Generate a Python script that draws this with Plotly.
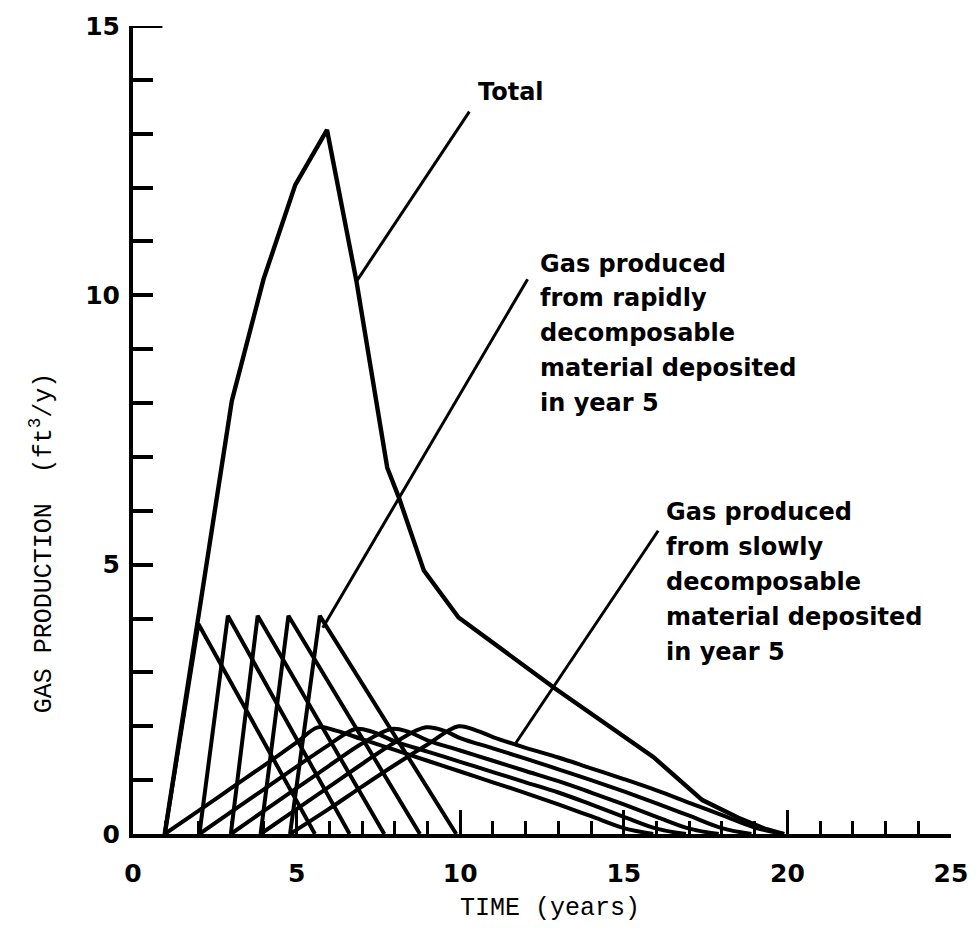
import plotly.graph_objects as go

# ---------------- data ----------------
total_x = [0.97, 2.0, 3.02, 3.99, 4.96, 5.93, 6.83, 7.77, 8.13, 8.89, 9.95, 12.9, 15.9, 17.4, 18.5, 19.3, 19.9]
total_y = [0.0, 4.0, 8.04, 10.3, 12.05, 13.07, 10.26, 6.8, 6.24, 4.89, 4.02, 2.7, 1.43, 0.63, 0.3, 0.1, 0.0]

rapid1_x = [0.97, 2.0, 5.56]
rapid1_y = [0.0, 3.9, 0.0]
rapid2_x = [2.03, 2.9, 6.62]
rapid2_y = [0.0, 4.05, 0.0]
rapid3_x = [2.99, 3.81, 7.68]
rapid3_y = [0.0, 4.05, 0.0]
rapid4_x = [3.9, 4.75, 8.77]
rapid4_y = [0.0, 4.05, 0.0]
rapid5_x = [4.8, 5.71, 9.88]
rapid5_y = [0.0, 4.05, 0.0]

slow1_x = [0.97, 2, 3, 4, 5, 5.65, 6.2, 7, 8, 9, 10, 11, 12, 13, 14, 15, 15.9]
slow1_y = [0.0, 0.43, 0.85, 1.27, 1.7, 1.98, 1.92, 1.76, 1.56, 1.36, 1.16, 0.96, 0.76, 0.55, 0.33, 0.11, 0.0]
slow2_x = [2.03, 3, 4, 5, 6, 6.8, 7.3, 8, 9, 10, 11, 12, 13, 14, 15, 16, 16.9]
slow2_y = [0.0, 0.41, 0.83, 1.25, 1.66, 1.95, 1.9, 1.72, 1.53, 1.34, 1.15, 0.96, 0.77, 0.55, 0.32, 0.1, 0.0]
slow3_x = [2.99, 4, 5, 6, 7, 7.9, 8.4, 9, 10, 11, 12, 13, 14, 15, 16, 17, 17.9]
slow3_y = [0.0, 0.43, 0.85, 1.27, 1.68, 1.95, 1.9, 1.74, 1.55, 1.36, 1.17, 0.98, 0.77, 0.55, 0.32, 0.1, 0.0]
slow4_x = [3.9, 5, 6, 7, 8, 8.95, 9.5, 10, 11, 12, 13, 14, 15, 16, 17, 18, 18.9]
slow4_y = [0.0, 0.46, 0.88, 1.3, 1.7, 1.98, 1.92, 1.78, 1.59, 1.4, 1.2, 1.0, 0.79, 0.57, 0.34, 0.11, 0.0]
slow5_x = [4.8, 6, 7, 8, 9, 9.95, 10.5, 11, 12, 13, 14, 15, 16, 17, 18, 19, 19.9]
slow5_y = [0.0, 0.47, 0.88, 1.28, 1.66, 2.0, 1.92, 1.8, 1.6, 1.42, 1.22, 1.02, 0.81, 0.58, 0.35, 0.12, 0.0]

# leader lines (data coordinates)
lead_total_x = [6.83, 10.28]
lead_total_y = [10.26, 13.41]
lead_rapid_x = [5.80, 12.06]
lead_rapid_y = [3.83, 10.30]
lead_slow_x = [11.70, 16.05]
lead_slow_y = [1.69, 5.63]

label_total = "Total"
label_rapid = ["Gas produced", "from rapidly", "decomposable", "material deposited", "in year 5"]
label_slow = ["Gas produced", "from slowly", "decomposable", "material deposited", "in year 5"]

x_title = "TIME (years)"
y_title = "GAS PRODUCTION  (ft<sup>3</sup>/y)"
x_tickvals = [0, 5, 10, 15, 20, 25]
y_tickvals = [0, 5, 10, 15]

# ---------------- figure ----------------
fig = go.Figure()
LW = 4.0
BLACK = "black"

def add_line(x, y, width=LW, shape="linear"):
    fig.add_trace(go.Scatter(x=x, y=y, mode="lines",
                             line=dict(color=BLACK, width=width, shape=shape),
                             hoverinfo="skip", showlegend=False))

for xs, ys in [(slow1_x, slow1_y), (slow2_x, slow2_y), (slow3_x, slow3_y),
               (slow4_x, slow4_y), (slow5_x, slow5_y)]:
    add_line(xs, ys, shape="spline")
for xs, ys in [(rapid1_x, rapid1_y), (rapid2_x, rapid2_y), (rapid3_x, rapid3_y),
               (rapid4_x, rapid4_y), (rapid5_x, rapid5_y)]:
    add_line(xs, ys)
add_line(total_x, total_y, width=4.4)

for xs, ys in [(lead_total_x, lead_total_y), (lead_rapid_x, lead_rapid_y), (lead_slow_x, lead_slow_y)]:
    add_line(xs, ys, width=3)

TXT = dict(family="DejaVu Sans", size=24, color=BLACK, weight="bold")
annotations = [dict(x=10.49, y=13.78, xref="x", yref="y", text=label_total, showarrow=False,
                    xanchor="left", yanchor="middle", font=TXT)]
step = 35 / 54.0
for i, t in enumerate(label_rapid):
    annotations.append(dict(x=12.39, y=10.59 - i * step, xref="x", yref="y", text=t,
                            showarrow=False, xanchor="left", yanchor="middle", font=TXT))
for i, t in enumerate(label_slow):
    annotations.append(dict(x=16.23, y=5.97 - i * step, xref="x", yref="y", text=t,
                            showarrow=False, xanchor="left", yanchor="middle", font=TXT))

TITLEF = dict(family="Liberation Mono", size=25, color=BLACK)
annotations.append(dict(x=0.51, y=-0.092, xref="paper", yref="paper", text=x_title,
                        showarrow=False, xanchor="center", yanchor="middle", font=TITLEF))
annotations.append(dict(x=-0.111, y=0.36, xref="paper", yref="paper", text=y_title,
                        showarrow=False, xanchor="center", yanchor="middle", textangle=-90,
                        font=TITLEF))

TICKF = dict(family="DejaVu Sans", size=25, color=BLACK, weight="bold")
fig.update_layout(
    width=980, height=933,
    margin=dict(l=133, r=20, t=24, b=99),
    paper_bgcolor="white", plot_bgcolor="white",
    showlegend=False,
    annotations=annotations,
    shapes=[dict(type="line", xref="x", yref="y", x0=0, x1=0.9, y0=15, y1=15,
                 line=dict(color=BLACK, width=4))],
    xaxis=dict(range=[0, 25], showgrid=False, zeroline=False,
               showline=True, linecolor=BLACK, linewidth=4,
               ticks="inside", ticklen=24, tickwidth=3, tickcolor=BLACK,
               tickvals=x_tickvals, ticklabelstandoff=14, tickfont=TICKF,
               minor=dict(ticks="inside", ticklen=13, tickwidth=3, tickcolor=BLACK,
                          dtick=1, tick0=0, showgrid=False)),
    yaxis=dict(range=[0, 15], showgrid=False, zeroline=False,
               showline=True, linecolor=BLACK, linewidth=4,
               ticks="inside", ticklen=20, tickwidth=4, tickcolor=BLACK,
               tickvals=y_tickvals, ticklabelstandoff=4, tickfont=TICKF,
               minor=dict(ticks="inside", ticklen=20, tickwidth=4, tickcolor=BLACK,
                          dtick=1, tick0=0, showgrid=False)),
)

fig.write_html("out.html")
